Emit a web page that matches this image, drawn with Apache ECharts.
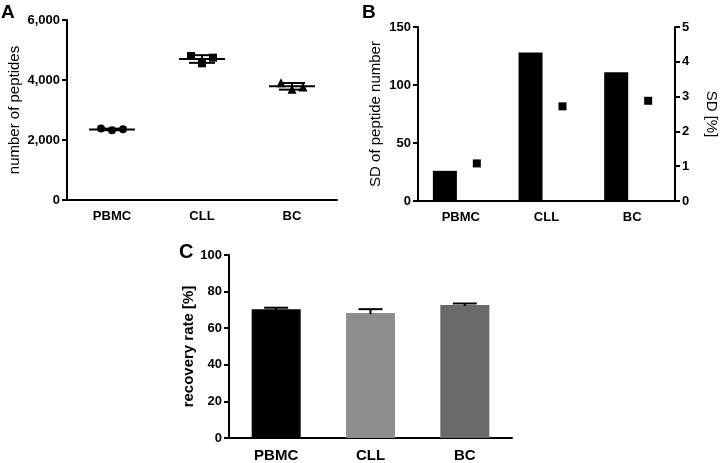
<!DOCTYPE html>
<html><head><meta charset="utf-8">
<script src="https://cdn.jsdelivr.net/npm/echarts@6/dist/echarts.min.js"></script>
<style>html,body{margin:0;padding:0;background:#fff}#c{width:720px;height:463px}</style>
</head><body><div id="c"></div>
<script>
// ---------- data ----------
const categories = ['PBMC', 'CLL', 'BC'];
// Panel A: replicate peptide counts
const pbmcPeptides = [2380, 2325, 2355];
const cllPeptides = [4800, 4555, 4745];
const bcPeptides = [3910, 3690, 3770];
const meanPeptides = [2353, 4700, 3790];
// Panel B
const sdPeptides = [26, 128, 111];
const sdPercent = [1.08, 2.72, 2.88];
// Panel C
const recoveryRate = [70.3, 68.3, 72.7];
const recoverySD = [0.9, 2.1, 0.8];
const ticksA = [0, 2000, 4000, 6000];
const ticksB = [0, 50, 100, 150];
const ticksBRight = [0, 1, 2, 3, 4, 5];
const ticksC = [0, 20, 40, 60, 80, 100];

// ---------- styles ----------
const FONT = "'Liberation Sans', Arial, sans-serif";
const jitter = [-11, 0, 11];
const barColorsC = ['#000000', '#8e8e8e', '#6a6a6a'];

function catAxis(gi, size) {
  return {
    type: 'category', gridIndex: gi, data: categories,
    axisLine: {lineStyle: {color: '#000', width: 2}},
    axisTick: {alignWithLabel: true, length: 5, lineStyle: {color: '#000', width: 2}},
    axisLabel: {color: '#000', fontFamily: FONT, fontWeight: 'bold', fontSize: size, margin: 10}
  };
}
function valAxis(gi, ticks, opts) {
  return Object.assign({
    type: 'value', gridIndex: gi, min: ticks[0], max: ticks[ticks.length - 1],
    interval: ticks[1] - ticks[0],
    axisLine: {show: true, lineStyle: {color: '#000', width: 2}},
    axisTick: {show: true, length: 5, lineStyle: {color: '#000', width: 2}},
    splitLine: {show: false},
    nameLocation: 'middle',
    nameTextStyle: {color: '#000', fontFamily: FONT, fontSize: 15},
    axisLabel: {color: '#000', fontFamily: FONT, fontWeight: 'bold', fontSize: 13, margin: 7}
  }, opts || {});
}

function line(x1, y1, x2, y2) {
  return {type: 'line', shape: {x1, y1, x2, y2}, style: {stroke: '#000', lineWidth: 2}};
}

function renderMeanSD(params, api) {
  const x = api.value(0), m = api.value(1), s = api.value(2);
  const c = api.coord([x, m]);
  const t = api.coord([x, m + s]);
  const b = api.coord([x, m - s]);
  return {type: 'group', children: [
    line(c[0] - 23, c[1], c[0] + 23, c[1]),
    line(c[0], t[1], c[0], b[1]),
    line(c[0] - 13, t[1], c[0] + 13, t[1]),
    line(c[0] - 13, b[1], c[0] + 13, b[1])
  ]};
}
function renderUpErr(params, api) {
  const x = api.value(0), m = api.value(1), s = api.value(2);
  const c = api.coord([x, m]);
  const t = api.coord([x, m + s]);
  return {type: 'group', children: [
    line(c[0], t[1], c[0], c[1] + 1),
    line(c[0] - 12, t[1], c[0] + 12, t[1])
  ]};
}

function pointsFor(catIdx, vals) {
  return vals.map((v, i) => ({value: [catIdx, v], symbolOffset: [jitter[i], 0]}));
}
const solid = {color: '#000', opacity: 1};

const option = {
  animation: false,
  backgroundColor: '#fff',
  textStyle: {fontFamily: FONT},
  grid: [
    {left: 67, top: 20, width: 270, height: 180},
    {left: 418, top: 27, width: 259, height: 174},
    {left: 229, top: 255, width: 283, height: 187}
  ],
  xAxis: [catAxis(0, 13), catAxis(1, 13), catAxis(2, 15)],
  yAxis: [
    valAxis(0, ticksA, {name: 'number of peptides', nameGap: 45,
      axisLabel: {color: '#000', fontFamily: FONT, fontWeight: 'bold', fontSize: 13, margin: 7,
        formatter: v => v.toLocaleString('en-US')}}),
    valAxis(1, ticksB, {name: 'SD of peptide number', nameGap: 35}),
    valAxis(1, ticksBRight, {position: 'right', name: 'SD [%]', nameGap: 29, nameRotate: -90}),
    valAxis(2, ticksC, {name: 'recovery rate [%]', nameGap: 27,
      nameTextStyle: {color: '#000', fontFamily: FONT, fontSize: 15, fontWeight: 'bold'}})
  ],
  series: [
    {type: 'custom', xAxisIndex: 0, yAxisIndex: 0, renderItem: renderMeanSD,
      encode: {x: 0, y: 1}, data: meanPeptides.map((m, i) => [i, m, sdPeptides[i]]), z: 2},
    {type: 'scatter', xAxisIndex: 0, yAxisIndex: 0, symbol: 'circle', symbolSize: 8,
      itemStyle: solid, data: pointsFor(0, pbmcPeptides), z: 3},
    {type: 'scatter', xAxisIndex: 0, yAxisIndex: 0, symbol: 'rect', symbolSize: 8,
      itemStyle: solid, data: pointsFor(1, cllPeptides), z: 3},
    {type: 'scatter', xAxisIndex: 0, yAxisIndex: 0, symbol: 'triangle', symbolSize: 9,
      itemStyle: solid, data: pointsFor(2, bcPeptides), z: 3},
    {type: 'bar', xAxisIndex: 1, yAxisIndex: 1, data: sdPeptides, barWidth: 24, barGap: '33%',
      itemStyle: {color: '#000'}},
    {type: 'bar', xAxisIndex: 1, yAxisIndex: 2, data: sdPercent, barWidth: 24, barGap: '33%',
      itemStyle: {color: 'rgba(0,0,0,0)'}, silent: true},
    {type: 'scatter', xAxisIndex: 1, yAxisIndex: 2, symbol: 'rect', symbolSize: 8,
      symbolOffset: [16, 0], itemStyle: solid, data: sdPercent},
    {type: 'bar', xAxisIndex: 2, yAxisIndex: 3, barWidth: 49,
      data: recoveryRate.map((v, i) => ({value: v, itemStyle: {color: barColorsC[i]}}))},
    {type: 'custom', xAxisIndex: 2, yAxisIndex: 3, renderItem: renderUpErr,
      encode: {x: 0, y: 1}, data: recoveryRate.map((m, i) => [i, m, recoverySD[i]]), z: 3}
  ],
  graphic: [
    {type: 'text', left: 1, top: 3, style: {text: 'A', font: 'bold 19px ' + FONT, fill: '#000'}},
    {type: 'text', left: 362, top: 3, style: {text: 'B', font: 'bold 19px ' + FONT, fill: '#000'}},
    {type: 'text', left: 179, top: 242, style: {text: 'C', font: 'bold 20px ' + FONT, fill: '#000'}}
  ]
};
echarts.init(document.getElementById('c'), null, {renderer: 'canvas'}).setOption(option);
</script>
</body></html>
